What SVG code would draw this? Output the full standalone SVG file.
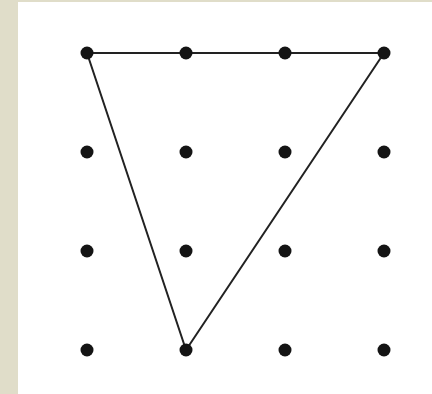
<svg xmlns="http://www.w3.org/2000/svg" width="432" height="394" viewBox="0 0 432 394">
<style>
.dot{fill:#141414}
.edge{stroke:#222;stroke-width:2;fill:none;stroke-linejoin:round}
</style>
<rect x="0" y="0" width="432" height="394" fill="#e0ddc9"/>
<rect x="18" y="2" width="414" height="392" fill="#ffffff"/>
<g id="connectors">
<polygon class="edge" points="87,53 384,53 186,350"/>
</g>
<g id="dots">
<g id="r0"><circle class="dot" cx="87" cy="53" r="6.5"/><circle class="dot" cx="186" cy="53" r="6.5"/><circle class="dot" cx="285" cy="53" r="6.5"/><circle class="dot" cx="384" cy="53" r="6.5"/></g>
<g id="r1"><circle class="dot" cx="87" cy="152" r="6.5"/><circle class="dot" cx="186" cy="152" r="6.5"/><circle class="dot" cx="285" cy="152" r="6.5"/><circle class="dot" cx="384" cy="152" r="6.5"/></g>
<g id="r2"><circle class="dot" cx="87" cy="251" r="6.5"/><circle class="dot" cx="186" cy="251" r="6.5"/><circle class="dot" cx="285" cy="251" r="6.5"/><circle class="dot" cx="384" cy="251" r="6.5"/></g>
<g id="r3"><circle class="dot" cx="87" cy="350" r="6.5"/><circle class="dot" cx="186" cy="350" r="6.5"/><circle class="dot" cx="285" cy="350" r="6.5"/><circle class="dot" cx="384" cy="350" r="6.5"/></g>
</g>
</svg>
